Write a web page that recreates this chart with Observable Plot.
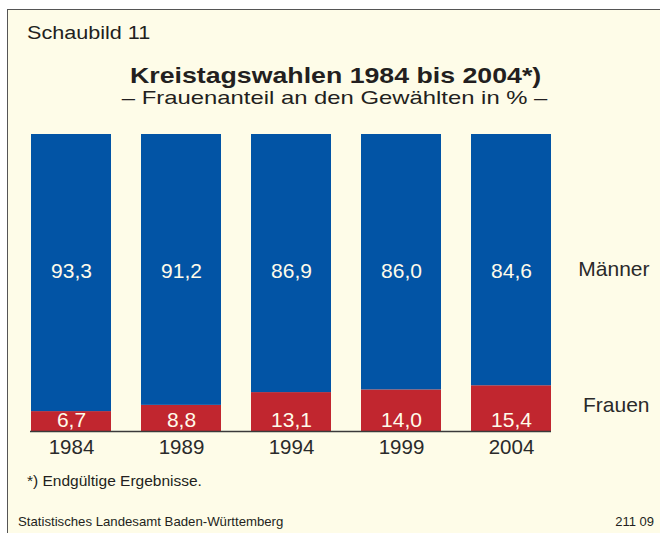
<!DOCTYPE html>
<html>
<head>
<meta charset="utf-8">
<script src="https://cdn.jsdelivr.net/npm/d3@7"></script>
<script src="https://cdn.jsdelivr.net/npm/@observablehq/plot@0.6"></script>
<style>
  html, body { margin: 0; padding: 0; background: #ffffff; }
  #wrap { position: relative; width: 660px; height: 533px; overflow: hidden; background: #ffffff;
          font-family: "Liberation Sans", Arial, sans-serif; color: #231f20; }
  #frame { position: absolute; left: 7px; top: 9px; width: 700px; height: 600px;
           background: #fefce8; border-left: 1px solid #555; border-top: 1px solid #555; }
  .t { position: absolute; white-space: nowrap; line-height: 1; }
  #plot { position: absolute; left: 0; top: 0; }
</style>
</head>
<body>
<div id="wrap">
  <div id="frame"></div>
  <div class="t" style="left:27px; top:24px; font-size:18px; transform:scaleX(1.2); transform-origin:left center;">Schaubild 11</div>
  <div class="t" style="left:0; width:671px; text-align:center; top:67px; line-height:0.85; font-size:22px; font-weight:bold; transform:scaleX(1.214); transform-origin:335px center;">Kreistagswahlen 1984 bis 2004*)</div>
  <div class="t" style="left:0; width:669px; text-align:center; top:89.5px; line-height:0.85; font-size:19px; transform:scaleX(1.255); transform-origin:334px center;">– Frauenanteil an den Gewählten in % –</div>
  <div class="t" style="left:27px; top:473px; font-size:15.5px;">*) Endgültige Ergebnisse.</div>
  <div class="t" style="left:18px; top:515px; font-size:13.2px;">Statistisches Landesamt Baden-Württemberg</div>
  <div class="t" style="right:6px; top:515px; font-size:13px;">211 09</div>
  <div id="plot"></div>
</div>
<script>
const years = ["1984", "1989", "1994", "1999", "2004"];
const maenner = [93.3, 91.2, 86.9, 86.0, 84.6];
const frauen = [6.7, 8.8, 13.1, 14.0, 15.4];
const seriesNames = ["Frauen", "Männer"];
const colors = ["#c1262f", "#0254a5"];

const rows = [];
years.forEach((y, i) => {
  rows.push({year: y, group: "Frauen", value: frauen[i]});
  rows.push({year: y, group: "Männer", value: maenner[i]});
});
const fmt = v => v.toFixed(1).replace(".", ",");
const fr = rows.filter(d => d.group === "Frauen");
const ma = rows.filter(d => d.group === "Männer");

const chart = Plot.plot({
  width: 660,
  height: 533,
  marginTop: 134,
  marginBottom: 102,
  marginLeft: 30,
  marginRight: 109,
  style: {background: "transparent", fontFamily: "Liberation Sans, Arial, sans-serif"},
  x: {domain: years, paddingInner: 0.2744, paddingOuter: 0, label: null},
  y: {domain: [0, 100], axis: null},
  color: {domain: seriesNames, range: colors},
  marks: [
    Plot.barY(rows, Plot.stackY({x: "year", y: "value", fill: "group", order: seriesNames})),
    Plot.ruleY([0], {stroke: "#3a3a3a", strokeWidth: 1.5}),
    Plot.axisX({tickSize: 0, tickPadding: 8, fontSize: 20.5, fill: "#2a2a2a", label: null}),
    Plot.text(ma, {x: "year", text: d => fmt(d.value), frameAnchor: "middle", dy: -12, fill: "#fffbea", fontSize: 21}),
    Plot.text(fr, {x: "year", text: d => fmt(d.value), frameAnchor: "bottom", dy: -5, fill: "#fffbea", fontSize: 21}),
    Plot.text(["Männer"], {frameAnchor: "middle", dy: -14, text: d => d, x: () => "2004", dx: 138, textAnchor: "end", fontSize: 21, fill: "#2a2a2a", style: {letterSpacing: "0.6px"}}),
    Plot.text(["Frauen"], {frameAnchor: "bottom", dy: -20, text: d => d, x: () => "2004", dx: 138, textAnchor: "end", fontSize: 21, fill: "#2a2a2a", style: {letterSpacing: "0.3px"}})
  ]
});
document.getElementById("plot").appendChild(chart);
</script>
</body>
</html>
